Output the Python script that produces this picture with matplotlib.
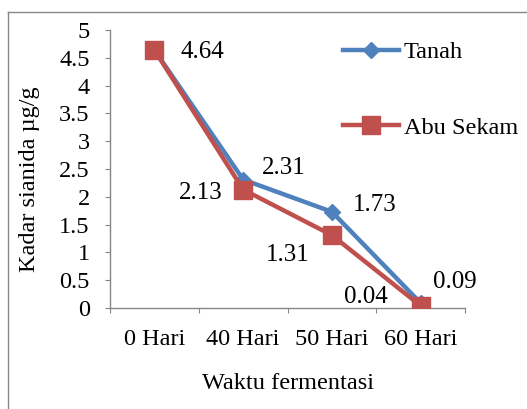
import matplotlib
matplotlib.use("Agg")
import matplotlib.pyplot as plt
from matplotlib.lines import Line2D

plt.rcParams['font.family'] = ['Liberation Serif', 'DejaVu Serif']

# data
hari = ['0 Hari', '40 Hari', '50 Hari', '60 Hari']
tanah = [4.64, 2.31, 1.73, 0.09]
abu_sekam = [4.64, 2.13, 1.31, 0.04]
lbl_tanah = ['4.64', '2.31', '1.73', '0.09']
lbl_abu = ['', '2.13', '1.31', '0.04']

blue = '#4F81BD'
red = '#C0504D'
fs = 17.5

fig = plt.figure(figsize=(5.27, 4.09), dpi=100)
ax = fig.add_axes([110/527, 1-308/409, 355/527, 278/409])

x = list(range(len(hari)))
ax.plot(x, tanah, color=blue, lw=3.2, marker='D', ms=8, label='Tanah', zorder=3)
ax.plot(x, abu_sekam, color=red, lw=3.2, marker='s', ms=12.5, label='Abu Sekam', zorder=4)

# data labels (offsets in pixels, y down)
off_t = [(48, 2), (41, -12), (43, -7), (34, -21)]
off_a = [(0, 0), (-42, 3), (-44, 20), (-55, -9)]
for i in x:
    ax.annotate(lbl_tanah[i], (i, tanah[i]), xytext=(off_t[i][0], -off_t[i][1]),
                textcoords='offset pixels', ha='center', va='center', fontsize=18)
    if lbl_abu[i]:
        ax.annotate(lbl_abu[i], (i, abu_sekam[i]), xytext=(off_a[i][0], -off_a[i][1]),
                    textcoords='offset pixels', ha='center', va='center', fontsize=18)

ax.set_xlim(-0.5, 3.5)
ax.set_ylim(0, 5)
ax.set_yticks([0, 0.5, 1, 1.5, 2, 2.5, 3, 3.5, 4, 4.5, 5])
ax.set_yticklabels(['0', '0.5', '1', '1.5', '2', '2.5', '3', '3.5', '4', '4.5', '5'])
ax.set_xticks([-0.5, 0.5, 1.5, 2.5, 3.5])
ax.set_xticklabels([])
ax.set_xticks(x, minor=True)
ax.set_xticklabels(hari, minor=True)
ax.tick_params(axis='x', which='minor', length=0, pad=15, labelsize=fs)
ax.tick_params(axis='x', which='major', length=3.6, color='#868686', direction='out')
ax.tick_params(axis='y', length=3.6, color='#868686', direction='out', labelsize=fs, pad=11)

for s in ['top', 'right']:
    ax.spines[s].set_visible(False)
for s in ['left', 'bottom']:
    ax.spines[s].set_color('#868686')
    ax.spines[s].set_linewidth(1)

ax.set_ylabel('Kadar sianida µg/g', fontsize=fs)
ax.yaxis.set_label_coords(-70/355, (308-179)/278)
ax.set_xlabel('Waktu fermentasi', fontsize=fs, labelpad=17)

leg = ax.legend(loc='upper left', bbox_to_anchor=(233/355, 0.96), frameon=False,
                fontsize=fs, handlelength=2.3, labelspacing=2.2, handletextpad=0.2,
                borderpad=0, borderaxespad=0)

# chart border
fig.add_artist(Line2D([8/527, 8/527], [0, 1-12/409], color='#868686', lw=1))
fig.add_artist(Line2D([8/527, 1], [1-12/409, 1-12/409], color='#868686', lw=1))

fig.savefig('out.png', dpi=100)
